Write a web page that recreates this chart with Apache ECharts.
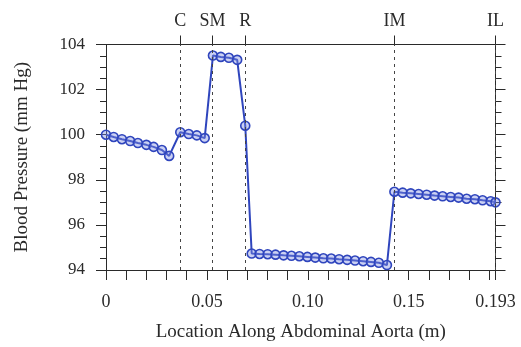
<!DOCTYPE html>
<html>
<head>
<meta charset="utf-8">
<style>
  html, body { margin: 0; padding: 0; background: #fff; }
  #chart { width: 521px; height: 347px; }
</style>
<script src="https://cdn.jsdelivr.net/npm/echarts@6/dist/echarts.min.js"></script>
</head>
<body>
<div id="chart"></div>
<script>
// Pressure samples along the abdominal aorta (position in m, pressure in mm Hg)
const aortaPosition = [
  0.0000, 0.0038, 0.0079, 0.0120, 0.0158, 0.0200, 0.0236, 0.0277, 0.0313,
  0.0368, 0.0410, 0.0450, 0.0489,
  0.0530, 0.0569, 0.0609, 0.0650, 0.0690,
  0.0722, 0.0761, 0.0801, 0.0840, 0.0880, 0.0919, 0.0958, 0.0998, 0.1037,
  0.1077, 0.1116, 0.1155, 0.1195, 0.1234, 0.1274, 0.1313, 0.1352, 0.1392,
  0.1429, 0.1470, 0.1510, 0.1549, 0.1589, 0.1628, 0.1668, 0.1708, 0.1747,
  0.1787, 0.1828, 0.1866, 0.1906, 0.1930
];
const pressure = [
  100.00, 99.90, 99.80, 99.72, 99.63, 99.55, 99.46, 99.32, 99.06,
  100.11, 100.03, 99.97, 99.85,
  103.51, 103.45, 103.41, 103.32, 100.40,
  94.73, 94.71, 94.70, 94.68, 94.65, 94.63, 94.61, 94.58, 94.55,
  94.52, 94.51, 94.48, 94.45, 94.42, 94.39, 94.36, 94.32, 94.22,
  97.47, 97.43, 97.40, 97.37, 97.34, 97.30, 97.27, 97.24, 97.21,
  97.16, 97.14, 97.09, 97.05, 97.00
];

// Branch landmarks marked along the top edge
const landmarkNames = ['C', 'SM', 'R', 'IM', 'IL'];
const landmarkPositions = [0.0368, 0.0528, 0.0690, 0.1429, 0.193];

// Labelled ticks on the bottom axis
const xLabelValues = [0, 0.05, 0.10, 0.15, 0.193];
const xLabelTexts = ['0', '0.05', '0.10', '0.15', '0.193'];

const X_MIN = 0, X_MAX = 0.193;
const Y_MIN = 94, Y_MAX = 104;

const FONT = '"Liberation Serif", "DejaVu Serif", serif';
const INK = '#2a2a2a';
const BLUE = '#2f45bd';

function lookup(values, texts, v) {
  for (let i = 0; i < values.length; i++) {
    if (Math.abs(values[i] - v) < 1e-6) return texts[i];
  }
  return '';
}

const points = aortaPosition.map((x, i) => [x, pressure[i]]);

const chart = echarts.init(document.getElementById('chart'), null, { renderer: 'canvas' });

const axisLine = { show: true, onZero: false, lineStyle: { color: INK, width: 1 } };

chart.setOption({
  animation: false,
  backgroundColor: '#fff',
  grid: { left: 106, right: 25.5, top: 44.5, bottom: 75.5, containLabel: false },
  xAxis: [
    {
      type: 'value', position: 'bottom', min: X_MIN, max: X_MAX, interval: 0.01,
      axisLine: axisLine,
      axisTick: { show: true, inside: false, length: 10, lineStyle: { color: INK } },
      splitLine: { show: false },
      axisLabel: {
        margin: 23, color: INK, fontFamily: FONT, fontSize: 18,
        showMinLabel: true, showMaxLabel: true,
        formatter: v => lookup(xLabelValues, xLabelTexts, v)
      },
      name: 'Location Along Abdominal Aorta (m)',
      nameLocation: 'middle', nameGap: 53,
      nameTextStyle: { color: INK, fontFamily: FONT, fontSize: 19 }
    },
    {
      type: 'value', position: 'top', min: X_MIN, max: X_MAX,
      axisLine: axisLine,
      axisTick: { show: true, inside: false, length: 9, customValues: landmarkPositions, lineStyle: { color: INK } },
      splitLine: { show: false },
      axisLabel: {
        margin: 14, color: INK, fontFamily: FONT, fontSize: 18,
        customValues: landmarkPositions,
        formatter: v => lookup(landmarkPositions, landmarkNames, v)
      }
    }
  ],
  yAxis: [
    {
      type: 'value', position: 'left', min: Y_MIN, max: Y_MAX, interval: 2,
      axisLine: axisLine,
      axisTick: { show: true, inside: false, length: 10, lineStyle: { color: INK } },
      minorTick: { show: true, splitNumber: 4, length: 6, lineStyle: { color: INK } },
      splitLine: { show: false },
      axisLabel: { margin: 21, color: INK, fontFamily: FONT, fontSize: 17 },
      name: 'Blood Pressure (mm Hg)',
      nameLocation: 'middle', nameGap: 74.5,
      nameTextStyle: { color: INK, fontFamily: FONT, fontSize: 19 }
    },
    {
      type: 'value', position: 'right', min: Y_MIN, max: Y_MAX, interval: 2,
      axisLine: axisLine,
      axisTick: { show: true, inside: false, length: 10, lineStyle: { color: INK } },
      minorTick: { show: true, splitNumber: 4, length: 6, lineStyle: { color: INK } },
      splitLine: { show: false },
      axisLabel: { show: false }
    }
  ],
  series: [
    {
      type: 'line',
      xAxisIndex: 0, yAxisIndex: 0,
      data: points,
      symbol: 'circle', symbolSize: 9,
      showAllSymbol: true,
      lineStyle: { color: BLUE, width: 2 },
      itemStyle: { color: 'rgba(125,140,225,0.4)', borderColor: BLUE, borderWidth: 1.6 },
      z: 3,
      markLine: {
        silent: true, symbol: ['none', 'none'], label: { show: false },
        precision: 4,
        lineStyle: { color: '#444', width: 1, type: [3, 4] },
        data: landmarkPositions.map(x => ({ xAxis: x }))
      }
    }
  ]
});
</script>
</body>
</html>
